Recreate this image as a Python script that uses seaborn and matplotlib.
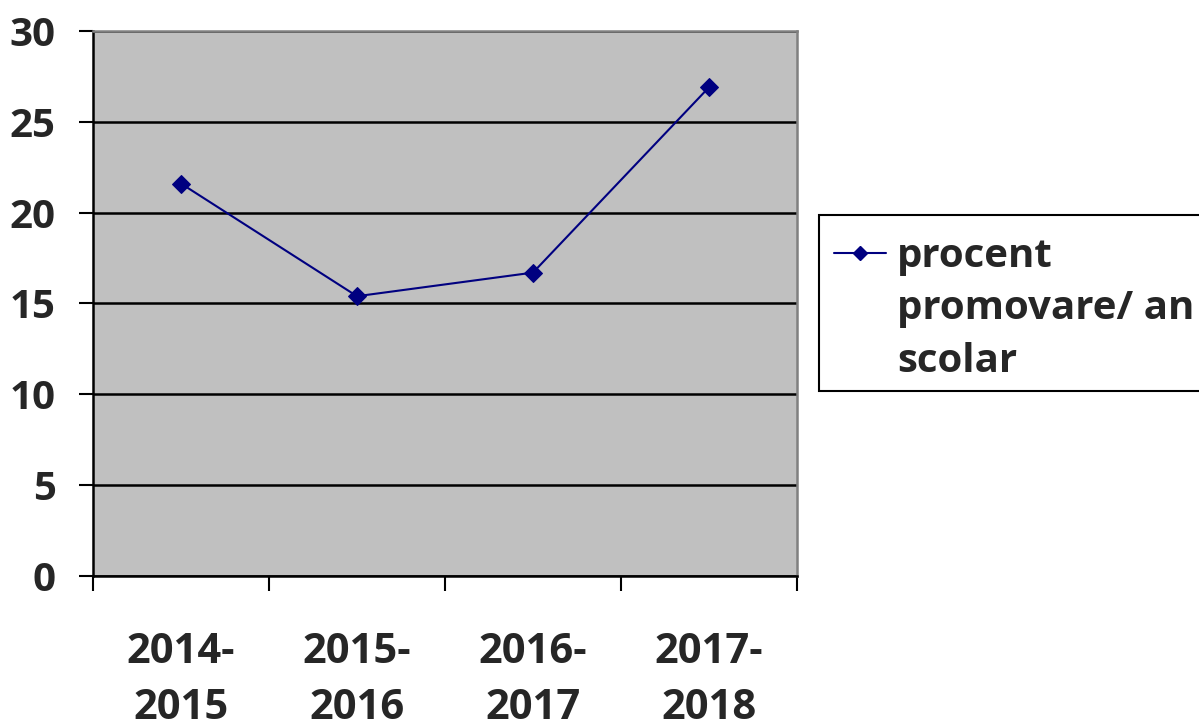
import matplotlib
matplotlib.use("Agg")
import matplotlib.pyplot as plt
from matplotlib.lines import Line2D
from matplotlib.patches import Rectangle
import seaborn as sns
import pandas as pd

years = ["2014-\n2015", "2015-\n2016", "2016-\n2017", "2017-\n2018"]
values = [21.6, 15.4, 16.7, 26.9]
series_lines = ["procent", "promovare/ an", "scolar"]
y_ticks = [0, 5, 10, 15, 20, 25, 30]

sns.set_style("white")
plt.rcParams['font.family'] = ['Open Sans', 'DejaVu Sans']
plt.rcParams['font.weight'] = 'bold'

df = pd.DataFrame({"pos": [i + 0.5 for i in range(len(years))], "val": values})

W, H = 1199, 727
fig = plt.figure(figsize=(W / 100, H / 100), dpi=100)
ax = fig.add_axes([0.0776, 0.2077, 0.5871, 0.7497])
ax.set_facecolor("#C0C0C0")

line_color = "#000080"
sns.lineplot(data=df, x="pos", y="val", color=line_color,
             marker="D", markersize=9, markeredgecolor=line_color, linewidth=1.5,
             ax=ax, legend=False)

ax.set_xlim(0, len(years))
ax.set_ylim(0, 30)
ax.set_yticks(y_ticks)
ax.set_yticklabels([str(t) for t in y_ticks], fontsize=29, fontweight="bold")
ax.yaxis.grid(True, color="black", linewidth=1.8)
ax.set_axisbelow(True)

ax.set_xticks(range(len(years) + 1))
ax.set_xticklabels([])
ax.set_xticks([i + 0.5 for i in range(len(years))], minor=True)
ax.set_xticklabels(years, minor=True, fontsize=30, fontweight="bold", linespacing=1.47)
ax.tick_params(axis="x", which="major", bottom=True, length=11, width=1.5, color="black", direction="out")
ax.tick_params(axis="x", which="minor", bottom=True, length=0, pad=40.5)
ax.tick_params(axis="y", left=True, length=10, width=1.5, color="black", direction="out", pad=17)
ax.set_xlabel("")
ax.set_ylabel("")

for s in ["left", "bottom"]:
    ax.spines[s].set_color("black")
    ax.spines[s].set_linewidth(1.8)
for s in ["top", "right"]:
    ax.spines[s].set_color("#808080")
    ax.spines[s].set_linewidth(1.8)

# legend frame box
box = Rectangle((819 / W, 1 - 391 / H), (1215 - 819) / W, 176 / H, transform=fig.transFigure,
                facecolor="white", edgecolor="black", linewidth=1.5, zorder=1)
fig.add_artist(box)

h_main = Line2D([], [], color=line_color, linewidth=1.5, marker="D", markersize=7,
                markeredgecolor=line_color)
h_blank = Line2D([], [], color="none", linewidth=0)
leg = fig.legend(handles=[h_main, h_blank, h_blank], labels=series_lines,
                 loc="upper left", bbox_to_anchor=(834 / W, 1 - 237 / H), bbox_transform=fig.transFigure,
                 frameon=False, prop={"size": 29, "weight": "bold"},
                 handlelength=1.3, borderpad=0, borderaxespad=0, handletextpad=0.27,
                 labelspacing=0.33)
leg.set_zorder(5)

fig.savefig("out.png", dpi=100)
